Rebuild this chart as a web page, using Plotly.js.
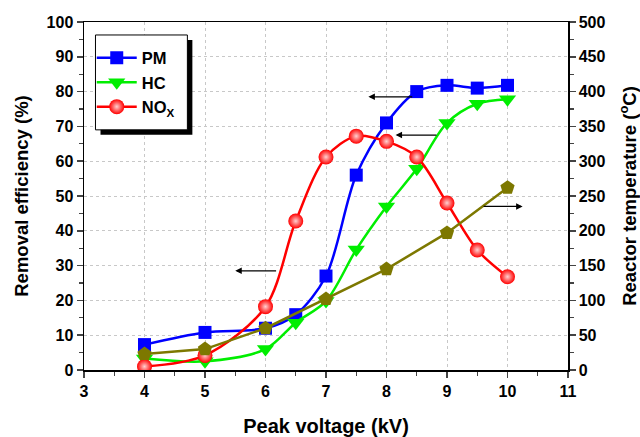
<!DOCTYPE html>
<html>
<head>
<meta charset="utf-8">
<script src="https://cdn.plot.ly/plotly-3.0.1.min.js"></script>
<style>html,body{margin:0;padding:0;background:#fff;}#chart{width:640px;height:437px;}</style>
</head>
<body>
<div id="chart"></div>
<script>
const voltageMain = [4, 5, 6, 6.5, 7, 7.5, 8, 8.5, 9, 9.5, 10];
const pmEff = [7.3, 10.8, 12, 15.9, 27, 56, 71, 80, 81.8, 81, 81.8];
const hcEff = [3.3, 2.5, 6, 13.6, 19.8, 34.6, 47, 57.8, 71, 76.5, 77.8];
const noxEff = [1, 4.2, 18.2, 42.8, 61.2, 67.2, 65.7, 61.2, 48, 34.5, 26.8];
const tempVoltage = [4, 5, 6, 7, 8, 9, 10];
const reactorTemp = [23, 30, 60, 102, 145, 197, 262];
const seriesNames = ['PM', 'HC', 'NO<sub>X</sub>'];

const font = {family: 'Liberation Sans, Arial, sans-serif', color: '#000'};

const traces = [
  {x: voltageMain, y: pmEff, name: seriesNames[0], mode: 'lines+markers',
   line: {color: '#0000ff', width: 2.5, shape: 'spline', smoothing: 0.9},
   marker: {symbol: 'square', size: 13, color: '#0000ff'}},
  {x: voltageMain, y: hcEff, name: seriesNames[1], mode: 'lines+markers',
   line: {color: '#00ee00', width: 2.5, shape: 'spline', smoothing: 0.9},
   marker: {symbol: 'triangle-down', size: 15, color: '#00ee00'}},
  {x: voltageMain, y: noxEff, name: seriesNames[2], mode: 'lines+markers',
   line: {color: '#ff0000', width: 2.5, shape: 'spline', smoothing: 0.9},
   marker: {symbol: 'circle', size: 15, color: '#ff0000', gradient: {type: 'radial', color: '#ffd0d0'}}},
  {x: tempVoltage, y: reactorTemp, name: 'Temperature', yaxis: 'y2', mode: 'lines+markers', showlegend: false,
   line: {color: '#7d7800', width: 2.5},
   marker: {symbol: 'pentagon', size: 15, color: '#7d7800'}}
];

const arrowStyle = {showarrow: true, arrowhead: 2, arrowsize: 1, arrowwidth: 1.3, arrowcolor: '#000', text: '', axref: 'x', ayref: 'y', xref: 'x', yref: 'y'};
const annotations = [
  Object.assign({}, arrowStyle, {x: 5.5, y: 28.5, ax: 6.2, ay: 28.5}),
  Object.assign({}, arrowStyle, {x: 7.7, y: 78.5, ax: 8.45, ay: 78.5}),
  Object.assign({}, arrowStyle, {x: 8.15, y: 67.5, ax: 8.85, ay: 67.5}),
  Object.assign({}, arrowStyle, {x: 10.25, y: 47, ax: 9.58, ay: 47})
];

const tickFont = Object.assign({}, font, {size: 16, weight: 'bold'});
const titleFont = Object.assign({}, font, {size: 18.5, weight: 'bold'});

const layout = {
  width: 640, height: 437,
  margin: {l: 83.5, r: 72, t: 22, b: 66.5},
  paper_bgcolor: '#fff', plot_bgcolor: '#fff',
  font: Object.assign({}, font, {size: 15}),
  showlegend: true,
  legend: {x: 0.016, y: 0.826, xanchor: 'left', yanchor: 'middle', bgcolor: 'rgba(0,0,0,0)',
           borderwidth: 0, font: Object.assign({}, font, {size: 16.5, weight: 'bold'}),
           itemwidth: 40, tracegroupgap: 0},
  xaxis: {range: [3, 11], dtick: 1, tick0: 3, ticks: 'outside', ticklen: 6, tickwidth: 1.5,
          showline: true, linecolor: '#000', linewidth: 1.5, mirror: true,
          showgrid: true, gridcolor: '#c8c8c8', griddash: 'dot', gridwidth: 1, zeroline: false,
          minor: {dtick: 0.5, ticks: 'outside', ticklen: 4, tickwidth: 1.2, showgrid: false},
          tickfont: tickFont,
          title: {text: 'Peak voltage (kV)', font: Object.assign({}, font, {size: 20, weight: 'bold'}), standoff: 20}},
  yaxis: {range: [0, 100], dtick: 10, ticks: 'outside', ticklen: 6, tickwidth: 1.5,
          showline: true, linecolor: '#000', linewidth: 1.5, mirror: true,
          showgrid: true, gridcolor: '#c8c8c8', griddash: 'dot', gridwidth: 1, zeroline: false,
          minor: {dtick: 5, ticks: 'outside', ticklen: 4, tickwidth: 1.2, showgrid: false},
          tickfont: tickFont,
          title: {text: 'Removal efficiency (%)', font: titleFont, standoff: 13}},
  yaxis2: {range: [0, 500], dtick: 50, overlaying: 'y', side: 'right', ticks: 'outside', ticklen: 6, tickwidth: 1.5,
          showline: true, linecolor: '#000', linewidth: 1.5, showgrid: false, zeroline: false,
          minor: {dtick: 25, ticks: 'outside', ticklen: 4, tickwidth: 1.2, showgrid: false},
          tickfont: tickFont,
          title: {text: 'Reactor temperature (<sup>o</sup>C)', font: titleFont, standoff: 20}},
  annotations: annotations,
  shapes: [
    {type: 'rect', xref: 'paper', yref: 'paper', x0: 0.0341, x1: 0.2239, y0: 0.6758, y1: 0.9484,
     fillcolor: '#000', line: {width: 0}, layer: 'above'},
    {type: 'rect', xref: 'paper', yref: 'paper', x0: 0.0237, x1: 0.2136, y0: 0.6901, y1: 0.9627,
     fillcolor: '#fff', line: {color: '#000', width: 1}, layer: 'above'}
  ]
};

Plotly.newPlot('chart', traces, layout, {staticPlot: true, displayModeBar: false});
</script>
</body>
</html>
